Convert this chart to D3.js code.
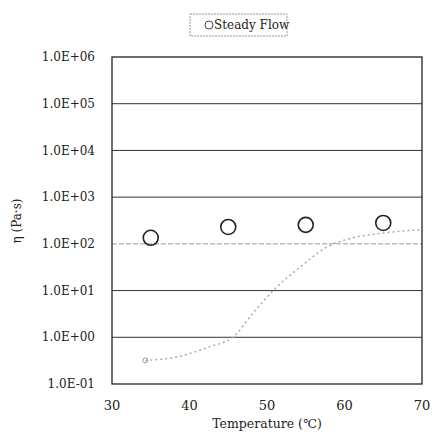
<!DOCTYPE html>
<html><head><meta charset="utf-8">
<script src="https://cdn.jsdelivr.net/npm/d3@7"></script>
<style>body{margin:0;background:#fff}svg text{font-family:'DejaVu Serif',serif;fill:#222}</style>
</head><body><svg id="c" width="432" height="434"></svg>
<script>
const steadyT = [35, 45, 55, 65];
const steadyEta = [135, 230, 255, 280];
const sweepT = [34.3, 38.4, 42.6, 45.6, 48.2, 50.8, 54.3, 57.7, 60.7, 65.0, 69.7];
const sweepEta = [0.32, 0.38, 0.63, 1.0, 3.3, 10, 32, 85, 130, 170, 200];
const yTicks = [0.1, 1, 10, 100, 1000, 1e4, 1e5, 1e6];
const yTickLabels = ["1.0E-01","1.0E+00","1.0E+01","1.0E+02","1.0E+03","1.0E+04","1.0E+05","1.0E+06"];
const xTicks = [30, 40, 50, 60, 70];

const svg = d3.select("#c");
const L = 112, R = 422, T = 57, B = 384;
const x = d3.scaleLinear().domain([30, 70]).range([L, R]);
const y = d3.scaleLog().domain([0.1, 1e6]).range([B, T]);
const FF = "'DejaVu Serif', serif";

svg.append("g").selectAll("line").data(yTicks.filter(v => v > 0.1 && v < 1e6)).join("line")
  .attr("x1", L).attr("x2", R).attr("y1", d => y(d)).attr("y2", d => y(d))
  .attr("stroke", d => d === 100 ? "#999" : "#333")
  .attr("stroke-dasharray", d => d === 100 ? "5,2" : null)
  .attr("stroke-width", 1);

svg.append("rect").attr("x", L).attr("y", T).attr("width", R - L).attr("height", B - T)
  .attr("fill", "none").attr("stroke", "#222").attr("stroke-width", 1.3);

svg.append("g").selectAll("text").data(yTicks).join("text")
  .attr("x", 95).attr("y", d => y(d)).attr("dy", "0.35em").attr("text-anchor", "end")
  .attr("font-family", FF).attr("font-size", 12).text((d, i) => yTickLabels[i]);

svg.append("g").selectAll("text").data(xTicks).join("text")
  .attr("x", d => x(d)).attr("y", 405).attr("dy", "0.35em").attr("text-anchor", "middle")
  .attr("font-family", FF).attr("font-size", 13).text(d => d);

svg.append("text").attr("x", 267).attr("y", 424).attr("dy", "0.35em").attr("text-anchor", "middle")
  .attr("font-family", FF).attr("font-size", 12.5).text("Temperature (℃)");

svg.append("text").attr("transform", "translate(17,221) rotate(-90)").attr("dy", "0.35em")
  .attr("text-anchor", "middle").attr("font-family", FF).attr("font-size", 12).text("η (Pa·s)");

const line = d3.line().x((d, i) => x(sweepT[i])).y((d, i) => y(sweepEta[i])).curve(d3.curveMonotoneX);
svg.append("path").attr("d", line(sweepT)).attr("fill", "none").attr("stroke", "#aaa")
  .attr("stroke-width", 1.5).attr("stroke-dasharray", "2,3");
svg.append("circle").attr("cx", x(sweepT[0])).attr("cy", y(sweepEta[0])).attr("r", 2.5)
  .attr("fill", "none").attr("stroke", "#999").attr("stroke-width", 1);

svg.append("g").selectAll("circle").data(steadyT).join("circle")
  .attr("cx", d => x(d)).attr("cy", (d, i) => y(steadyEta[i])).attr("r", 7.5)
  .attr("fill", "none").attr("stroke", "#222").attr("stroke-width", 1.6);

svg.append("rect").attr("x", 190).attr("y", 14).attr("width", 97).attr("height", 22)
  .attr("fill", "#fff").attr("stroke", "#999").attr("stroke-width", 1).attr("stroke-dasharray", "2,1");
svg.append("circle").attr("cx", 209).attr("cy", 25).attr("r", 4).attr("fill", "none")
  .attr("stroke", "#444").attr("stroke-width", 1);
svg.append("text").attr("x", 214).attr("y", 25).attr("dy", "0.35em")
  .attr("font-family", FF).attr("font-size", 12).text("Steady Flow");
</script></body></html>
